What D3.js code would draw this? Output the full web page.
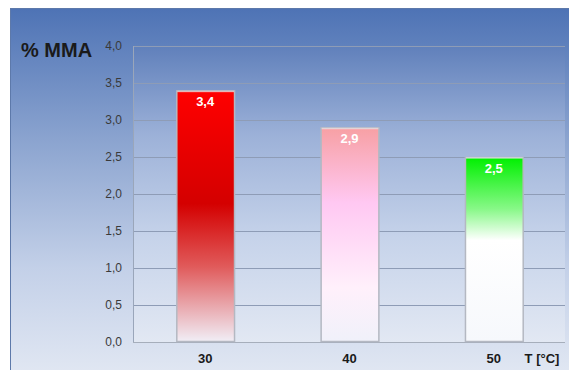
<!DOCTYPE html>
<html>
<head>
<meta charset="utf-8">
<script src="https://cdn.jsdelivr.net/npm/d3@7"></script>
<style>
body { margin: 0; background: #fff; }
text { font-family: "Liberation Sans", Arial, sans-serif; }
</style>
</head>
<body>
<script>
// data
var temps = ["30", "40", "50"];
var mma = [3.4, 2.9, 2.5];
var yTicks = [0, 0.5, 1, 1.5, 2, 2.5, 3, 3.5, 4];

var W = 569, H = 370;
var svg = d3.select("body").append("svg").attr("width", W).attr("height", H);
var defs = svg.append("defs");

var bg = defs.append("linearGradient").attr("id", "bg").attr("x1", 0).attr("y1", 0).attr("x2", 0).attr("y2", 1);
bg.append("stop").attr("offset", "0%").attr("stop-color", "#4e73b5");
bg.append("stop").attr("offset", "35%").attr("stop-color", "#8aa3cf");
bg.append("stop").attr("offset", "70%").attr("stop-color", "#c3d0e8");
bg.append("stop").attr("offset", "100%").attr("stop-color", "#e2e8f3");

var pbg = defs.append("linearGradient").attr("id", "pbg").attr("x1", 0).attr("y1", 0).attr("x2", 0).attr("y2", 1);
pbg.append("stop").attr("offset", "0%").attr("stop-color", "#6080bb");
pbg.append("stop").attr("offset", "30%").attr("stop-color", "#9cb1d8");
pbg.append("stop").attr("offset", "65%").attr("stop-color", "#c6d3ea");
pbg.append("stop").attr("offset", "100%").attr("stop-color", "#e2e8f3");

// bar gradients (top -> bottom)
var grads = [
  [["0%", "#ff0000"], ["45%", "#d40000"], ["70%", "#e05a5a"], ["88%", "#eab2b8"], ["100%", "#f1eef6"]],
  [["0%", "#f7a0a4"], ["35%", "#ffc8f2"], ["75%", "#fff0fb"], ["100%", "#f0f1fa"]],
  [["0%", "#00f000"], ["28%", "#88f888"], ["45%", "#ffffff"], ["100%", "#f6f8fc"]]
];
grads.forEach(function(stops, i) {
  var g = defs.append("linearGradient").attr("id", "bar" + i).attr("x1", 0).attr("y1", 0).attr("x2", 0).attr("y2", 1);
  stops.forEach(function(s) { g.append("stop").attr("offset", s[0]).attr("stop-color", s[1]); });
});

// outer frame
svg.append("rect").attr("x", 10.5).attr("y", 8.5).attr("width", W).attr("height", H)
  .attr("fill", "url(#bg)").attr("stroke", "#5d79aa");

var pLeft = 133, pRight = 565, pTop = 46, pBottom = 342;

svg.append("rect").attr("x", pLeft).attr("y", pTop).attr("width", pRight - pLeft).attr("height", pBottom - pTop)
  .attr("fill", "url(#pbg)");

var y = d3.scaleLinear().domain([0, 4]).range([pBottom, pTop]);
var x = d3.scaleBand().domain(temps).range([pLeft, pLeft + 3 * 145 - 2]).paddingInner(0.6).paddingOuter(0.3);

// gridlines
svg.append("g").selectAll("line").data(yTicks).enter().append("line")
  .attr("x1", pLeft).attr("x2", pRight)
  .attr("y1", function(d) { return Math.round(y(d)) + 0.5; })
  .attr("y2", function(d) { return Math.round(y(d)) + 0.5; })
  .attr("stroke", function(d) { return d === 0 ? "#a6aebb" : "#8e9cb6"; })
  .attr("stroke-width", 1);
svg.append("line").attr("x1", pLeft + 0.5).attr("x2", pLeft + 0.5).attr("y1", pTop).attr("y2", pBottom)
  .attr("stroke", "#9aa6ba");

// y axis labels
var yAxis = d3.axisLeft(y).tickValues(yTicks).tickSize(0).tickPadding(11)
  .tickFormat(function(d) { return d3.format(".1f")(d).replace(".", ","); });
var ya = svg.append("g").attr("transform", "translate(" + pLeft + ",0)").call(yAxis);
ya.select(".domain").remove();
ya.selectAll("text").attr("fill", "#3a3a3a").style("font-size", "12px").style("font-family", "Liberation Sans, Arial, sans-serif");

svg.append("text").attr("x", 21).attr("y", 57).text("% MMA")
  .attr("fill", "#1a1a1a").style("font-size", "20px").style("font-weight", "bold");

// bars
svg.append("g").selectAll("rect").data(mma).enter().append("rect")
  .attr("x", function(d, i) { return x(temps[i]) + 0.5; })
  .attr("y", function(d) { return y(d) + 0.5; })
  .attr("width", x.bandwidth())
  .attr("height", function(d) { return y(0) - y(d) - 1; })
  .attr("fill", function(d, i) { return "url(#bar" + i + ")"; })
  .attr("stroke", "#b4b8c2").attr("stroke-width", 1.5);

// thin highlight at bar top
svg.append("g").selectAll("line").data(mma).enter().append("line")
  .attr("x1", function(d, i) { return x(temps[i]) + 1; })
  .attr("x2", function(d, i) { return x(temps[i]) + x.bandwidth(); })
  .attr("y1", function(d) { return y(d) + 1; })
  .attr("y2", function(d) { return y(d) + 1; })
  .attr("stroke", "#ffffff").attr("stroke-opacity", 0.45).attr("stroke-width", 1.5);

// value labels
svg.append("g").selectAll("text").data(mma).enter().append("text")
  .attr("x", function(d, i) { return x(temps[i]) + x.bandwidth() / 2; })
  .attr("y", function(d) { return y(d) + 16; })
  .attr("text-anchor", "middle").attr("fill", "#ffffff")
  .style("font-size", "13px").style("font-weight", "bold")
  .text(function(d) { return String(d).replace(".", ","); });

// category labels
svg.append("g").selectAll("text").data(temps).enter().append("text")
  .attr("x", function(d) { return x(d) + x.bandwidth() / 2; })
  .attr("y", 363)
  .attr("text-anchor", "middle").attr("fill", "#1a1a1a")
  .style("font-size", "13px").style("font-weight", "bold")
  .text(function(d) { return d; });

svg.append("text").attr("x", 542).attr("y", 363).attr("text-anchor", "middle")
  .attr("fill", "#1a1a1a").style("font-size", "13px").style("font-weight", "bold")
  .text("T [°C]");
</script>
</body>
</html>
